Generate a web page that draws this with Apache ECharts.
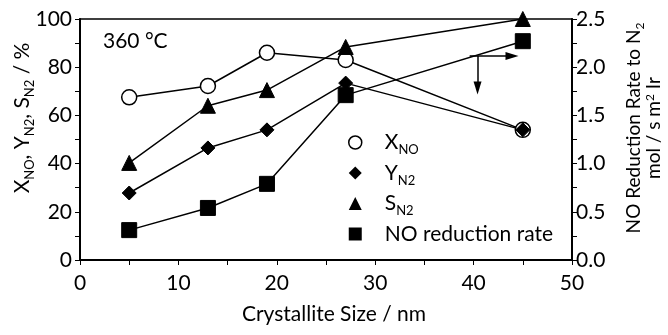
<!DOCTYPE html>
<html>
<head>
<meta charset="utf-8">
<script src="https://cdn.jsdelivr.net/npm/echarts@6/dist/echarts.min.js"></script>
<style>
  html, body { margin: 0; padding: 0; background: #fff; }
  #chart { width: 668px; height: 335px; }
</style>
</head>
<body>
<div id="chart"></div>
<script>
// Crystallite size (nm)
const crystalliteSize = [5, 13, 19, 27, 45];
// NO conversion, N2 yield, N2 selectivity (%)
const xNO = [67.5, 72.2, 86, 83, 54];
const yN2 = [27.8, 46.5, 54, 73.4, 54];
const sN2 = [40.3, 64, 70.5, 88.4, 100];
// NO reduction rate to N2 (mol / s m2 Ir)
const noRate = [0.31, 0.54, 0.79, 1.71, 2.27];

// Arrow annotation (left-axis units)
const arrowY = 84.6;
const arrowRightFrom = 39.6, arrowRightTo = 43.9;
const arrowDownX = 40.4, arrowDownTo = 71.4;

const FONT = 'Lato';
const BLACK = '#000';

const pair = ys => crystalliteSize.map((x, i) => [x, ys[i]]);

// rich-text token styles for the rotated axis titles (zrender style names)
function richSet(size, sub, lh) {
  return {
    t: { font: size + 'px ' + FONT, fill: BLACK, lineHeight: lh, align: 'center' },
    s: { font: sub + 'px ' + FONT, fill: BLACK, lineHeight: sub, verticalAlign: 'bottom', align: 'center', padding: [0, 0, -2, 0] },
    p: { font: sub + 'px ' + FONT, fill: BLACK, lineHeight: sub, verticalAlign: 'top', align: 'center' }
  };
}

const legendRich = {
  t: { fontFamily: FONT, fontSize: 21, color: BLACK, lineHeight: 24 },
  s: { fontFamily: FONT, fontSize: 13, color: BLACK, lineHeight: 13, verticalAlign: 'bottom', padding: [0, 0, -2, 0] }
};

const legendNames = {
  'X_NO': '{t|X}{s|NO}',
  'Y_N2': '{t|Y}{s|N2}',
  'S_N2': '{t|S}{s|N2}',
  'NO reduction rate': '{t|NO reduction rate}'
};

const lineCommon = {
  type: 'line',
  lineStyle: { color: BLACK, width: 1.5 },
  itemStyle: { color: BLACK, borderColor: BLACK },
  emphasis: { disabled: true },
  animation: false,
  z: 3
};

const axisCommon = {
  axisLine: { show: true, lineStyle: { color: BLACK, width: 2 } },
  axisTick: { show: true, length: 5, lineStyle: { color: BLACK, width: 1 } },
  minorTick: { show: true, splitNumber: 2, length: 5, lineStyle: { color: BLACK, width: 1 } },
  splitLine: { show: false }
};

const chart = echarts.init(document.getElementById('chart'), null, { renderer: 'canvas' });

chart.setOption({
  backgroundColor: '#fff',
  animation: false,
  grid: {
    left: 80, right: 96, top: 19, bottom: 75,
    show: true, borderColor: BLACK, borderWidth: 1.5, backgroundColor: 'transparent'
  },
  legend: {
    orient: 'vertical',
    left: 343, top: 127,
    itemWidth: 13, itemHeight: 13,
    itemGap: 6,
    data: [
      { name: 'X_NO', icon: 'circle', itemStyle: { color: '#fff', borderColor: BLACK, borderWidth: 1.5 } },
      { name: 'Y_N2', icon: 'diamond' },
      { name: 'S_N2', icon: 'triangle' },
      { name: 'NO reduction rate', icon: 'rect' }
    ],
    formatter: n => legendNames[n],
    textStyle: { rich: legendRich, padding: [0, 0, 0, 18] },
    selectedMode: false
  },
  graphic: [{
    type: 'text',
    left: 103, top: 31,
    style: { text: '360 °C', fontFamily: FONT, fontSize: 21, fill: BLACK }
  }, {
    type: 'text',
    x: 22, y: 118, rotation: Math.PI / 2,
    style: {
      text: '{t|X}{s|NO}{t|, Y}{s|N2}{t|, S}{s|N2}{t| / %}',
      rich: richSet(21, 13, 24),
      align: 'center', verticalAlign: 'middle'
    }
  }, {
    type: 'text',
    x: 644, y: 128, rotation: Math.PI / 2,
    style: {
      text: '{t|NO Reduction Rate to N}{s|2}\n{t|mol / s m}{p|2}{t| Ir}',
      rich: richSet(19, 12, 20),
      align: 'center', verticalAlign: 'middle'
    }
  }, {
    type: 'text',
    x: 334, y: 314,
    style: {
      text: 'Crystallite Size / nm',
      fontFamily: FONT, fontSize: 21, fill: BLACK,
      align: 'center', verticalAlign: 'middle'
    }
  }],
  xAxis: Object.assign({
    type: 'value',
    min: 0, max: 50, interval: 10,
    axisLabel: { fontFamily: FONT, fontSize: 21, color: BLACK, margin: 13 }
  }, axisCommon),
  yAxis: [Object.assign({
    type: 'value',
    position: 'left',
    min: 0, max: 100, interval: 20,
    axisLabel: { fontFamily: FONT, fontSize: 21, color: BLACK, margin: 8 }
  }, axisCommon), Object.assign({
    type: 'value',
    position: 'right',
    min: 0, max: 2.5, interval: 0.5,
    axisLabel: { fontFamily: FONT, fontSize: 21, color: BLACK, margin: 4, formatter: v => v.toFixed(1) }
  }, axisCommon)],
  series: [
    Object.assign({}, lineCommon, {
      name: 'X_NO',
      yAxisIndex: 0,
      data: pair(xNO),
      symbol: 'circle', symbolSize: 15,
      itemStyle: { color: '#fff', borderColor: BLACK, borderWidth: 1.5 },
      markLine: {
        silent: true,
        symbol: ['none', 'triangle'],
        symbolSize: [8, 13],
        label: { show: false },
        lineStyle: { color: BLACK, width: 1.5, type: 'solid' },
        emphasis: { disabled: true },
        data: [
          [{ coord: [arrowRightFrom, arrowY] }, { coord: [arrowRightTo, arrowY] }],
          [{ coord: [arrowDownX, arrowY] }, { coord: [arrowDownX, arrowDownTo] }]
        ]
      }
    }),
    Object.assign({}, lineCommon, {
      name: 'Y_N2', yAxisIndex: 0, data: pair(yN2),
      symbol: 'diamond', symbolSize: 14
    }),
    Object.assign({}, lineCommon, {
      name: 'S_N2', yAxisIndex: 0, data: pair(sN2),
      symbol: 'triangle', symbolSize: 15
    }),
    Object.assign({}, lineCommon, {
      name: 'NO reduction rate', yAxisIndex: 1, data: pair(noRate),
      symbol: 'rect', symbolSize: 15
    })
  ]
});
</script>
</body>
</html>
